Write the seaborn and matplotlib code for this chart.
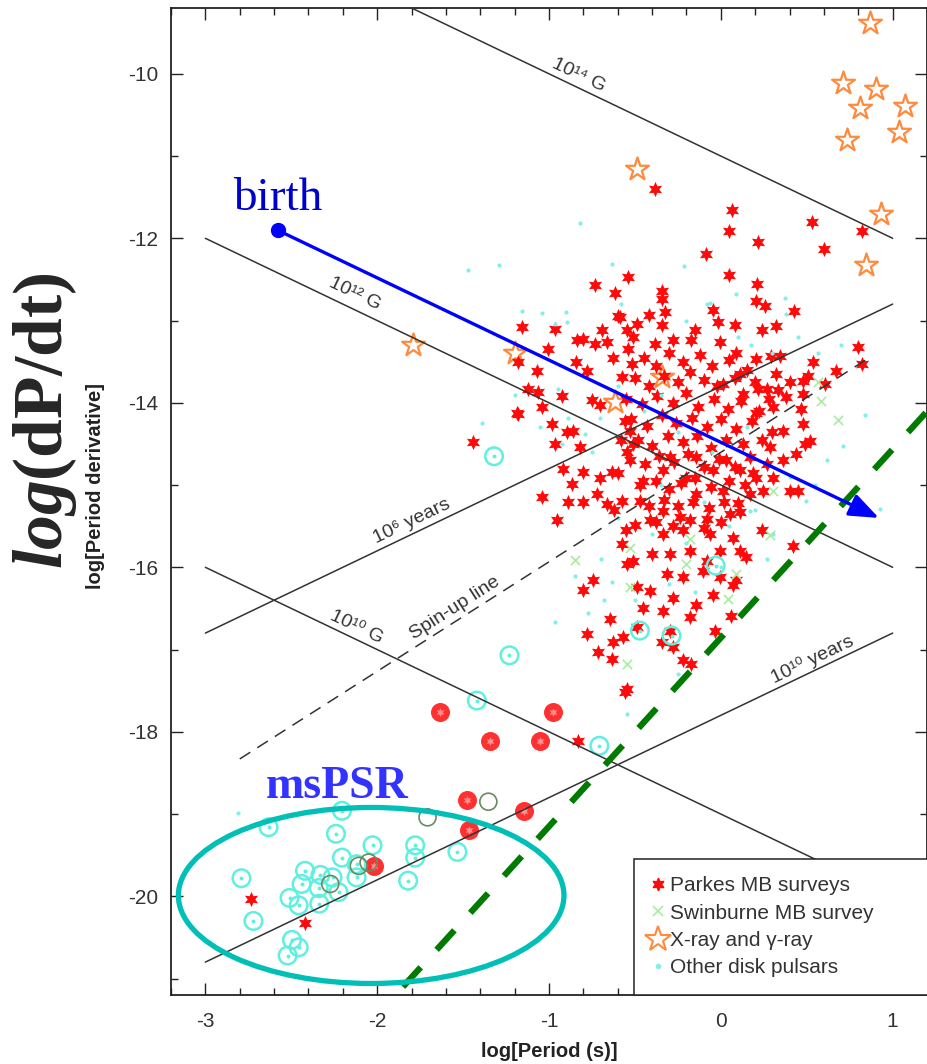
import numpy as np
import pandas as pd
import matplotlib
matplotlib.use("Agg")
import matplotlib.pyplot as plt
from matplotlib.patches import Ellipse
from matplotlib.lines import Line2D
from matplotlib.ticker import MultipleLocator
import seaborn as sns

# ---- data (log P [s], log Pdot) ----
parkes = [
    (-0.384, -11.40), (0.066, -11.65), (0.531, -11.80), (0.047, -11.91), (0.824, -11.91),
    (0.217, -12.05), (0.599, -12.13), (-0.089, -12.19), (0.049, -12.45), (0.211, -12.56),
    (-0.733, -12.57), (-0.543, -12.47), (-0.616, -12.66), (-0.345, -12.64), (-0.345, -12.74),
    (0.207, -12.76), (0.256, -12.82), (0.426, -12.88), (-0.045, -12.87), (-0.326, -12.90),
    (-0.597, -12.94), (-0.417, -12.93), (-1.157, -13.08), (-0.963, -13.10), (-0.692, -13.12),
    (-0.016, -13.02), (0.081, -13.06), (-0.151, -13.12), (0.237, -13.12), (0.32, -13.07),
    (-0.345, -13.06), (0.798, -13.32), (0.82, -13.53), (0.537, -13.51), (0.672, -13.61),
    (0.605, -13.77), (0.508, -13.67),
    (-0.839, -13.24), (-0.80, -13.23), (-0.73, -13.28), (-0.665, -13.26), (-0.587, -12.96),
    (-1.004, -13.35), (-0.843, -13.51), (-1.178, -13.51), (-1.072, -13.61), (-0.781, -13.61),
    (-0.626, -13.45), (-0.577, -13.69), (-1.12, -13.83), (-1.062, -13.87), (-0.926, -13.92),
    (-0.752, -13.97), (-0.703, -14.03), (-1.043, -14.05), (-1.178, -14.14), (-0.984, -14.26),
    (-0.897, -14.36), (-0.858, -14.34), (-0.965, -14.50), (-0.82, -14.54), (-1.44, -14.48),
    (-0.558, -14.22), (-0.529, -14.34), (-0.51, -14.50), (-0.548, -14.60), (-0.548, -13.12),
    (-0.51, -13.20), (-0.54, -13.34), (-0.519, -13.53),
    (-0.49, -13.04), (-0.384, -13.28), (-0.277, -13.24), (-0.171, -13.24), (-0.006, -13.26),
    (0.091, -13.39), (0.207, -13.47), (0.294, -13.43), (0.343, -13.43), (0.479, -13.73),
    (0.401, -13.75), (0.324, -13.65), (0.217, -13.83), (0.266, -13.83), (0.333, -13.85),
    (0.382, -13.93), (0.479, -13.89), (0.469, -14.07), (0.304, -14.05), (0.207, -14.13),
    (0.479, -14.26), (0.362, -14.34), (0.517, -14.46), (0.44, -14.62), (0.285, -14.54),
    (0.130, -13.89), (0.110, -13.65), (0.014, -13.77),
    (0.237, -15.55), (0.421, -15.74), (0.45, -15.07), (0.246, -15.07), (0.149, -15.88),
    (0.091, -16.16), (0.062, -16.59), (-0.035, -16.77), (-0.219, -17.13), (-0.171, -17.17),
    (-0.277, -16.97), (-0.345, -16.91), (-0.142, -16.46), (-0.18, -16.61), (-0.277, -16.37),
    (-0.452, -16.49), (-0.49, -16.73), (-0.335, -16.53), (-0.413, -16.29), (-0.045, -16.34),
    (-0.006, -16.12), (0.072, -16.22), (-0.103, -16.04), (-0.219, -16.12), (-0.316, -16.08),
    (-0.403, -15.84), (-0.51, -15.92), (-0.49, -16.24), (-0.297, -15.84), (-0.18, -15.80),
    (-0.083, -15.92), (-0.006, -15.80), (0.110, -15.80), (0.072, -15.64), (-0.064, -15.59),
    (-0.219, -15.55), (-0.335, -15.59), (-0.413, -15.43), (-0.5, -15.49), (0.052, -15.35),
    (0.11, -15.33), (-0.083, -15.41), (-0.238, -15.39), (-0.335, -15.31), (-0.471, -15.19),
    (-0.142, -15.11), (0.014, -15.07), (0.169, -15.11), (0.207, -14.91), (0.304, -14.91),
    (0.11, -14.82), (-0.045, -14.82), (-0.2, -14.91), (-0.335, -14.82), (-0.452, -14.95),
    (-0.297, -14.66), (-0.142, -14.66), (0.033, -14.70), (0.169, -14.66), (0.266, -14.74),
    (0.362, -14.70), (-0.297, -16.77), (0.401, -15.07), (0.488, -14.50),
    (-0.917, -14.80), (-0.8, -14.84), (-0.868, -14.99), (-1.043, -15.15), (-0.888, -15.21),
    (-0.8, -15.21), (-0.723, -15.11), (-0.665, -15.23), (-0.955, -15.43), (-0.703, -14.91),
    (-0.636, -14.84), (-0.577, -15.19), (-0.577, -15.72), (-0.548, -15.96), (-0.742, -16.16),
    (-0.8, -16.28), (-0.645, -16.63), (-0.781, -16.81), (-0.626, -16.91), (-0.713, -17.03),
    (-0.636, -17.11), (-0.568, -16.85), (-0.548, -17.48),
    (-1.188, -14.13), (-0.558, -17.52), (-0.83, -18.11),
    (-2.733, -20.03), (-2.419, -20.33),
    # dense core
    (-0.45, -13.45), (-0.38, -13.55), (-0.30, -13.40), (-0.22, -13.50), (-0.12, -13.42),
    (-0.05, -13.55), (0.05, -13.48), (0.15, -13.60), (-0.50, -13.70), (-0.42, -13.80),
    (-0.33, -13.68), (-0.25, -13.75), (-0.18, -13.62), (-0.10, -13.72), (-0.02, -13.80),
    (0.08, -13.70), (0.20, -13.75), (0.28, -13.95), (-0.55, -13.95), (-0.46, -14.02),
    (-0.37, -13.92), (-0.28, -14.00), (-0.20, -13.88), (-0.13, -14.05), (-0.04, -13.95),
    (0.04, -14.08), (0.12, -13.98), (0.22, -14.10), (-0.52, -14.20), (-0.43, -14.28),
    (-0.34, -14.15), (-0.26, -14.25), (-0.17, -14.18), (-0.08, -14.30), (0.00, -14.20),
    (0.09, -14.32), (0.18, -14.22), (0.30, -14.35), (-0.48, -14.45), (-0.40, -14.52),
    (-0.31, -14.40), (-0.22, -14.48), (-0.14, -14.40), (-0.06, -14.55), (0.03, -14.45),
    (0.13, -14.50), (0.24, -14.45), (-0.53, -14.70), (-0.44, -14.75), (-0.36, -14.65),
    (-0.27, -14.72), (-0.19, -14.62), (-0.10, -14.78), (-0.01, -14.68), (0.08, -14.78),
    (0.19, -14.85), (-0.47, -15.00), (-0.38, -14.95), (-0.30, -15.05), (-0.23, -14.98),
    (-0.15, -14.92), (-0.06, -15.02), (0.05, -14.95), (0.14, -15.00), (-0.42, -15.25),
    (-0.33, -15.18), (-0.25, -15.25), (-0.16, -15.20), (-0.07, -15.28), (0.02, -15.20),
    (0.10, -15.22), (-0.38, -15.45), (-0.28, -15.50), (-0.18, -15.42), (-0.10, -15.52),
    (0.00, -15.45), (-0.58, -14.45), (-0.60, -14.85), (-0.62, -15.30), (-0.55, -15.55),
]
parkes_binary = [(-1.634, -17.76), (-0.975, -17.76), (-1.346, -18.11), (-1.055, -18.11),
                 (-1.48, -18.83), (-1.465, -19.19), (-1.145, -18.96), (-2.02, -19.63)]
swinburne = [(0.566, -13.75), (0.585, -13.98), (0.682, -14.21), (0.285, -15.61), (0.043, -16.38),
             (-0.849, -15.91), (-0.548, -17.17), (-0.529, -16.24), (-0.529, -15.76), (0.304, -15.07),
             (-0.2, -15.96), (-0.18, -15.65), (0.091, -16.08)]
swinburne_binary = [(-1.353, -18.85), (-1.707, -19.04), (-2.107, -19.63), (-2.05, -19.59), (-2.273, -19.85)]
xray = [(0.870, -9.38), (0.711, -10.11), (0.905, -10.18), (0.808, -10.41), (1.07, -10.39),
        (1.037, -10.71), (0.734, -10.81), (-0.49, -11.16), (0.934, -11.70), (0.843, -12.32),
        (-1.79, -13.30), (-1.20, -13.39), (-0.616, -13.99), (-0.345, -13.69)]
other = [(-0.82, -11.82), (-1.469, -12.38), (-1.29, -12.33), (-0.631, -12.31), (-0.215, -12.34),
         (0.372, -12.72), (0.382, -12.92), (-0.083, -12.80), (-1.157, -12.88), (-1.04, -12.91),
         (-0.9, -12.90), (0.566, -13.40), (-0.897, -13.02), (-0.965, -13.04), (-1.39, -14.24),
         (-0.946, -13.83), (-0.888, -14.18), (-0.79, -14.38), (-0.703, -14.19), (-0.926, -14.50),
         (-0.965, -16.67), (-0.849, -16.11), (-0.771, -16.55), (-0.636, -16.18), (0.266, -15.90),
         (0.304, -15.59), (0.498, -15.19), (-0.548, -17.78), (0.924, -15.29), (0.711, -14.52),
         (0.169, -15.31), (0.091, -12.68), (-0.064, -12.79), (0.178, -13.30), (-2.808, -18.99),
         (-0.45, -14.10), (-0.25, -14.35), (-0.05, -14.60), (0.15, -14.30), (-0.35, -15.00),
         (-0.10, -15.20), (0.05, -15.50), (-0.20, -15.70), (-0.40, -15.60), (0.20, -15.30),
         (-0.60, -15.40), (-0.70, -15.90), (-0.30, -16.20), (-0.15, -16.30), (0.00, -16.00),
         (-0.50, -16.40), (-0.25, -17.30), (-0.68, -16.40), (0.40, -14.90), (0.55, -15.00),
         (0.62, -14.70), (0.10, -13.20), (-0.20, -13.00), (-0.60, -13.80), (-0.35, -13.90),
         (0.30, -13.40), (0.70, -13.30), (0.45, -13.20), (-0.75, -14.60), (-1.05, -14.30),
         (-1.20, -13.90), (-0.58, -12.80), (0.84, -14.15)]
binary_other = [(-1.32, -14.65), (-1.23, -17.07), (-1.42, -17.62), (-0.707, -18.17), (-0.471, -16.77),
                (-0.287, -16.83), (-0.03, -15.98), (-1.779, -19.38), (-1.779, -19.53), (-1.533, -19.46),
                (-1.82, -19.81), (-2.205, -18.96), (-2.632, -19.16), (-2.24, -19.24), (-2.027, -19.38),
                (-2.205, -19.53), (-2.12, -19.61), (-2.79, -19.78), (-2.42, -19.69), (-2.33, -19.74),
                (-2.26, -19.77), (-2.44, -19.85), (-2.34, -19.90), (-2.225, -19.95), (-2.12, -19.77),
                (-2.51, -20.02), (-2.457, -20.11), (-2.337, -20.09), (-2.72, -20.30), (-2.496, -20.53),
                (-2.457, -20.62), (-2.521, -20.72)]

# reference lines: endpoints (log P, log Pdot)
bfield_lines = {"1e14": ([-3, 1], [-8, -12]), "1e12": ([-3, 1], [-12, -16]),
                "1e10": ([-3, 1], [-16, -20])}
age_lines = {"1e6": ([-3, 1], [-16.8, -12.8]), "1e10": ([-3, 1], [-20.8, -16.8])}
spinup_x = [-2.8, 0.85]
spinup_y = [-18.33, -13.47]
birth_x = [-2.576, 0.92]
birth_y = [-11.905, -15.40]
green_x = [-1.85, 1.25]
green_y = [-21.1, -13.99]
mspsr_center = (-2.035, -19.99)
mspsr_size = (2.244, 2.14)

line_labels = [("10¹⁴ G", -0.83, -10.02, -1), ("10¹² G", -2.13, -12.68, -1),
               ("10¹⁰ G", -2.12, -16.73, -1), ("10⁶ years", -1.80, -15.44, 1),
               ("Spin-up line", -1.55, -16.49, 4 / 3), ("10¹⁰ years", 0.535, -17.12, 1)]


def frame(pts):
    return pd.DataFrame(pts, columns=["logP", "logPdot"])


sns.set_style("ticks")
plt.rcParams["font.family"] = ["Liberation Sans", "DejaVu Sans"]
plt.rcParams["mathtext.fontset"] = "custom"
plt.rcParams["mathtext.rm"] = "Liberation Serif:bold"
plt.rcParams["mathtext.it"] = "Liberation Serif:italic:bold"
plt.rcParams["axes.unicode_minus"] = False
plt.rcParams["lines.scale_dashes"] = False

fig = plt.figure(figsize=(9.27, 10.64), dpi=100)
ax = fig.add_axes([171 / 927, 69 / 1064, 756 / 927, 987 / 1064])

star6 = (6, 1, 0)
sns.scatterplot(data=frame(xray), x="logP", y="logPdot", marker="*", s=300,
                facecolor="white", edgecolor="#ff8a3d", linewidth=1.6, ax=ax, zorder=2)
sns.scatterplot(data=frame(parkes), x="logP", y="logPdot", marker=star6, s=120,
                color="#ff0a0a", linewidth=0, ax=ax, zorder=3)
sns.scatterplot(data=frame(parkes_binary), x="logP", y="logPdot", marker="o", s=160,
                color="#ff3030", edgecolor="#ff3030", linewidth=1, ax=ax, zorder=3)
sns.scatterplot(data=frame(parkes_binary), x="logP", y="logPdot", marker=star6, s=40,
                color="#ff9090", linewidth=0, ax=ax, zorder=3)
sns.scatterplot(data=frame(binary_other), x="logP", y="logPdot", marker="o", s=160,
                facecolor="none", edgecolor="#5ff0e0", linewidth=1.8, ax=ax, zorder=3)
sns.scatterplot(data=frame(binary_other), x="logP", y="logPdot", marker="o", s=8,
                color="#5ff0e0", linewidth=0, ax=ax, zorder=3)
sns.scatterplot(data=frame(swinburne_binary), x="logP", y="logPdot", marker="o", s=150,
                facecolor="none", edgecolor="#6a8a60", linewidth=1.2, ax=ax, zorder=3)
sns.scatterplot(data=frame(swinburne), x="logP", y="logPdot", marker="x", s=45,
                color="#a8eea0", linewidth=1.2, ax=ax, zorder=3)
sns.scatterplot(data=frame(other), x="logP", y="logPdot", marker="o", s=9,
                color="#80f0e8", linewidth=0, ax=ax, zorder=3)

# B-field, age and spin-up lines
for xs, ys in list(bfield_lines.values()) + list(age_lines.values()):
    ax.plot(xs, ys, color="#333333", lw=1.1, zorder=4)
ax.plot(spinup_x, spinup_y, color="#333333", lw=1.1, dashes=(9, 6), zorder=4)

for txt, lx, ly, slope in line_labels:
    ax.text(lx, ly, txt, rotation=np.degrees(np.arctan(slope)), transform_rotates_text=True,
            rotation_mode="anchor", ha="center", va="center", fontsize=14, color="#333333",
            zorder=4)

# green dashed line
ax.plot(green_x, green_y, color="#007a00", lw=4.5, dashes=(19, 17), zorder=6)

# birth arrow
ax.annotate("", xy=(birth_x[1], birth_y[1]), xytext=(birth_x[0], birth_y[0]),
            arrowprops=dict(arrowstyle="-|>,head_length=0.9,head_width=0.35", color="#0000ff",
                            lw=2.4, shrinkA=0, shrinkB=0, mutation_scale=20), zorder=7)
ax.plot(birth_x[0], birth_y[0], "o", color="#0000ff", ms=10, zorder=7)
ax.text(-2.581, -11.66, "birth", family="Liberation Serif", fontsize=34, color="#0000cc",
        ha="center", va="baseline", zorder=7)

# msPSR ellipse
ax.add_patch(Ellipse(mspsr_center, mspsr_size[0], mspsr_size[1], fill=False,
                     edgecolor="#00bfb6", lw=3.8, zorder=6))
ax.text(-2.233, -18.81, "msPSR", family="Liberation Serif", fontweight="bold", fontsize=33,
        color="#3333ff", ha="center", va="baseline", zorder=7)

ax.set_xlim(-3.2, 1.2)
ax.set_ylim(-21.2, -9.2)
ax.xaxis.set_major_locator(MultipleLocator(1))
ax.xaxis.set_minor_locator(MultipleLocator(0.2))
ax.yaxis.set_major_locator(MultipleLocator(2))
ax.yaxis.set_minor_locator(MultipleLocator(1))
ax.tick_params(which="both", direction="in", top=True, right=True, width=1, color="#222222")
ax.tick_params(which="major", length=8.5, labelsize=15, labelcolor="#333333")
ax.tick_params(which="minor", length=5)
ax.tick_params(axis="y", pad=9)
ax.tick_params(axis="x", pad=12)
for sp in ax.spines.values():
    sp.set_linewidth(1.3)
    sp.set_color("#222222")

ax.set_xlabel("log[Period (s)]", fontsize=14.5, fontweight="bold", color="#222222")
ax.set_ylabel("log[Period derivative]", fontsize=14.5, fontweight="bold", color="#222222")
ax.xaxis.set_label_coords(0.5, -0.048)
ax.yaxis.set_label_coords(-0.087, 0.516)

handles = [
    Line2D([], [], marker=star6, color="#ff0a0a", ls="none", ms=9),
    Line2D([], [], marker="x", color="#a8eea0", ls="none", ms=7, mew=1.2),
    Line2D([], [], marker="*", mfc="white", mec="#ff8a3d", ls="none", ms=19, mew=1.5),
    Line2D([], [], marker="o", color="#80f0e8", ls="none", ms=3),
]
labels = ["Parkes MB surveys", "Swinburne MB survey", "X-ray and γ-ray", "Other disk pulsars"]
leg = ax.legend(handles, labels, loc="lower left", bbox_to_anchor=(0.612, 0, 0.45, 0.138),
                mode="expand", borderaxespad=0, borderpad=0.85, handlelength=0.6,
                handletextpad=0.3, labelspacing=0.4, fontsize=15, fancybox=False,
                framealpha=1, edgecolor="#222222", labelcolor="#333333")
leg.get_frame().set_linewidth(1.1)
leg.set_zorder(10)

fig.text(45 / 927, 1 - 421 / 1064, r"$\mathit{log}\mathrm{(dP/dt)}$", rotation=90,
         fontsize=50, ha="center", va="center")

fig.savefig("out.png", dpi=100)
